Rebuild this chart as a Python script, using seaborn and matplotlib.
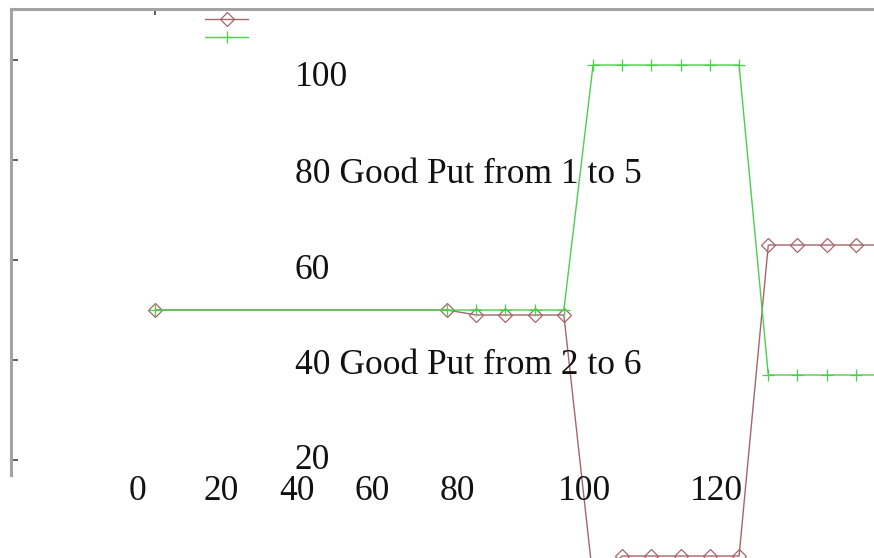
import matplotlib
matplotlib.use("Agg")
import matplotlib.pyplot as plt
import matplotlib.transforms as mtransforms
import numpy as np
import pandas as pd
import seaborn as sns

# Simulation time (s) and good put for the two flows
time = [5, 55, 60, 65, 70, 75, 80, 85, 90, 95, 100, 105, 110, 115, 120, 125, 130]
goodput_1_to_5 = [50, 50, 49, 49, 49, 49, -4, 0.8, 0.8, 0.8, 0.8, 0.8, 63, 63, 63, 63, 63]
goodput_2_to_6 = [50, 50, 50, 50, 50, 50, 99, 99, 99, 99, 99, 99, 37, 37, 37, 37, 37]

series_names = ["Good Put from 1 to 5", "Good Put from 2 to 6"]
y_ticks = [20, 40, 60, 80, 100]
x_tick_labels = ["0", "20", "40", "60", "80", "100", "120"]

df = pd.DataFrame({
    "time": time * 2,
    "goodput": goodput_1_to_5 + goodput_2_to_6,
    "flow": [series_names[0]] * len(time) + [series_names[1]] * len(time),
})

sns.set_style("white")
plt.rcParams["font.family"] = ["Liberation Serif", "DejaVu Serif"]

W, H = 874, 558
fig = plt.figure(figsize=(W / 100, H / 100), dpi=100)
# axes frame: left edge at 11 px, top at 9 px, runs below the canvas
ax = fig.add_axes([11 / W, 1 - 590 / H, 863 / W, (590 - 9) / H])

colors = {series_names[0]: "#a5666a", series_names[1]: "#4ccf4c"}
markers = {series_names[0]: "D", series_names[1]: "+"}
msize = {series_names[0]: 7, series_names[1]: 9}

handles = []
for name in series_names:
    sub = df[df["flow"] == name]
    sns.lineplot(data=sub, x="time", y="goodput", ax=ax, color=colors[name],
                 marker=markers[name], markersize=msize[name], mfc="none",
                 mec=colors[name], markeredgewidth=0.9, linewidth=1.0,
                 estimator=None, sort=False, legend=False)
    handles.append(ax.lines[-1])

ax.set_xlim(-19.66, 128.1)
ax.set_ylim(-6, 110.2)
ax.set_xlabel("")
ax.set_ylabel("")

for side in ["right", "bottom"]:
    ax.spines[side].set_visible(False)
for side in ["left", "top"]:
    ax.spines[side].set_color("#a3a3a3")
    ax.spines[side].set_linewidth(2.2)
ax.spines["left"].set_bounds(17, 110.2)

ax.set_yticks(y_ticks)
ax.set_yticklabels([])
ax.tick_params(axis="y", direction="in", length=5, width=1.2, color="#444444", left=True)
ax.set_xticks([time[0]])
ax.set_xticklabels([])
ax.tick_params(axis="x", direction="in", length=4, width=1.2, color="#444444",
               top=True, bottom=False)

# value labels along the y axis, with the flow names folded in
label_tr = mtransforms.blended_transform_factory(ax.transAxes, ax.transData)
label_x = (295 - 11) / 863
label_y = [20, 39, 58, 77.2, 96.6]
y_texts = [str(v) for v in y_ticks]
y_texts[1] = f"{y_ticks[1]} {series_names[1]}"
y_texts[3] = f"{y_ticks[3]} {series_names[0]}"
for yy, txt in zip(label_y, y_texts):
    ax.text(label_x, yy, txt, transform=label_tr, ha="left", va="center",
            fontsize=25.5, color="#111111")

# time labels across the middle row
xl_tr = mtransforms.blended_transform_factory(ax.transData, fig.transFigure)
xl_pos = [1.92, 16.3, 29.3, 42.2, 56.7, 78.6, 101.1]
for xx, txt in zip(xl_pos, x_tick_labels):
    ax.text(xx, 1 - 491 / H, txt, transform=xl_tr, ha="center", va="center",
            fontsize=25.5, color="#111111")

ax.legend(handles, [" ", " "], loc="upper left",
          bbox_to_anchor=(205 / W, 1 - 14 / H), bbox_transform=fig.transFigure,
          frameon=False, fontsize=10, handlelength=3.1, handletextpad=0.2,
          borderpad=0, borderaxespad=0, labelspacing=0.35)

fig.savefig("out.png", dpi=100)
